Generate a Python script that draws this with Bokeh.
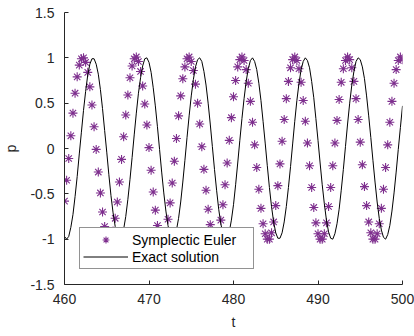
import numpy as np
from bokeh.plotting import figure
from bokeh.models import Range1d, FixedTicker, CustomJSTickFormatter, Legend, LegendItem
from bokeh.embed import file_html
from bokeh.resources import INLINE

# time grid of the samples (step h = 0.25 from t = 460 to 500)
t_start = 460.0
t_step = 0.25

# Symplectic Euler p values (hundredths)
p_euler_pct = [-58, -35, -11, 14, 39, 61, 79, 92, 99, 100,
               95, 84, 68, 48, 24, -1, -26, -49, -70, -86,
               -96, -101, -99, -91, -77, -59, -37, -12, 13, 37,
               59, 78, 91, 99, 101, 96, 85, 69, 49, 26,
               1, -24, -48, -68, -85, -96, -101, -99, -92, -78,
               -60, -38, -14, 11, 36, 58, 77, 90, 99, 101,
               96, 86, 71, 50, 27, 2, -23, -46, -67, -84,
               -95, -100, -99, -92, -79, -62, -40, -16, 9, 34,
               57, 75, 90, 98, 101, 97, 87, 72, 52, 29,
               4, -21, -45, -66, -83, -94, -100, -100, -93, -81,
               -63, -41, -17, 8, 32, 55, 74, 89, 98, 101,
               97, 88, 73, 53, 30, 6, -19, -43, -65, -82,
               -94, -100, -100, -94, -82, -64, -43, -19, 6, 31,
               54, 73, 88, 97, 101, 98, 89, 74, 55, 32,
               7, -18, -42, -63, -81, -93, -100, -100, -94, -83,
               -66, -45, -21, 4, 29, 52, 72, 87, 97, 101,
               98]

# Exact solution p values (hundredths)
p_exact_pct = [-97, -100, -97, -87, -73, -53, -31, -6, 18, 42,
               63, 81, 93, 99, 99, 93, 82, 65, 44, 20,
               -4, -29, -52, -71, -86, -96, -100, -98, -89, -75,
               -56, -34, -10, 15, 39, 61, 78, 91, 99, 100,
               95, 84, 67, 47, 24, -1, -26, -49, -69, -85,
               -95, -100, -98, -90, -77, -59, -37, -13, 12, 36,
               58, 76, 90, 98, 100, 96, 85, 70, 50, 27,
               2, -23, -46, -67, -83, -94, -100, -99, -92, -79,
               -62, -40, -16, 9, 33, 55, 74, 88, 97, 100,
               96, 87, 72, 53, 30, 6, -19, -43, -64, -81,
               -93, -99, -99, -93, -81, -64, -43, -20, 5, 30,
               53, 72, 87, 96, 100, 97, 89, 74, 56, 33,
               9, -16, -40, -61, -79, -92, -99, -100, -94, -83,
               -67, -46, -23, 2, 27, 50, 70, 85, 96, 100,
               98, 90, 77, 58, 36, 12, -13, -37, -59, -77,
               -90, -98, -100, -95, -85, -69, -49, -26, -1, 23,
               47]

x_ticks = [460, 470, 480, 490, 500]
y_ticks = [-1.5, -1, -0.5, 0, 0.5, 1, 1.5]
series_names = ["Symplectic Euler", "Exact solution"]
x_label = "t"
y_label = "p"

t_euler = t_start + t_step * np.arange(len(p_euler_pct))
p_euler = np.array(p_euler_pct) / 100.0
t_exact = t_start + t_step * np.arange(len(p_exact_pct))
p_exact = np.array(p_exact_pct) / 100.0

AX = "#262626"
FONT = "Liberation Sans"

p = figure(frame_width=338, frame_height=272, output_backend="svg", toolbar_location=None,
           x_range=Range1d(460, 500), y_range=Range1d(-1.5, 1.5),
           min_border_left=63, min_border_right=13, min_border_top=12, min_border_bottom=52)
p.outline_line_color = None
p.grid.visible = False
p.background_fill_color = "white"
p.border_fill_color = "white"

r_euler = p.scatter(t_euler, p_euler, marker="asterisk", size=9, line_color="#7E2F8E",
                    line_width=1.1)
r_exact = p.line(t_exact, p_exact, line_color="black", line_width=1)

p.xaxis.ticker = FixedTicker(ticks=x_ticks)
p.yaxis.ticker = FixedTicker(ticks=y_ticks)
p.yaxis.formatter = CustomJSTickFormatter(code="return tick.toString();")
p.xaxis.formatter = CustomJSTickFormatter(code="return tick.toString();")
for ax in (p.xaxis, p.yaxis):
    ax.axis_line_color = AX
    ax.axis_line_width = 1
    ax.major_tick_line_color = AX
    ax.major_tick_in = 4
    ax.major_tick_out = 0
    ax.minor_tick_line_color = None
    ax.major_label_text_color = AX
    ax.major_label_text_font = FONT
    ax.major_label_text_font_size = "14px"
    ax.axis_label_text_font = FONT
    ax.axis_label_text_font_size = "14px"
    ax.axis_label_text_font_style = "normal"
    ax.axis_label_text_color = AX
p.xaxis.axis_label = x_label
p.yaxis.axis_label = y_label
p.xaxis.major_label_standoff = 9
p.xaxis.axis_label_standoff = 7
p.yaxis.major_label_standoff = 10
p.yaxis.axis_label_standoff = 8

legend = Legend(items=[LegendItem(label=series_names[0], renderers=[r_euler]),
                       LegendItem(label=series_names[1], renderers=[r_exact])],
                location=(15, 15), orientation="vertical")
legend.border_line_color = AX
legend.border_line_width = 1
legend.background_fill_color = "white"
legend.background_fill_alpha = 1
legend.label_text_font = FONT
legend.label_text_font_size = "14px"
legend.label_text_color = "black"
legend.glyph_width = 45
legend.glyph_height = 17
legend.label_height = 17
legend.label_standoff = 4
legend.label_width = 118
legend.padding = 3
legend.spacing = 0
legend.margin = 0
p.add_layout(legend, "center")

open("out.html", "w").write(file_html(p, INLINE))
